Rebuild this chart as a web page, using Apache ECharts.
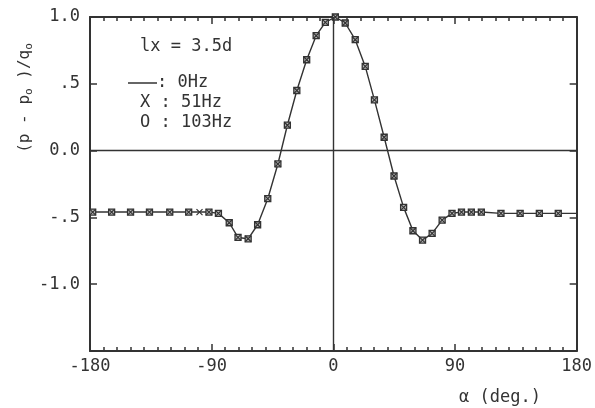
<!DOCTYPE html>
<html>
<head>
<meta charset="utf-8">
<script src="https://cdn.jsdelivr.net/npm/echarts@6.0.0/dist/echarts.min.js"></script>
<style>
  html, body { margin: 0; padding: 0; background: #fff; }
  #chart { width: 595px; height: 408px; }
</style>
</head>
<body>
<div id="chart"></div>
<script>
// circumferential angle (deg.)
const angles = [
  -178, -164, -150, -136, -121, -107, -99, -92, -85, -77, -70.5, -63, -56, -48.5,
  -41, -34, -27, -19.7, -12.7, -5.9, 1.5, 8.8, 16.2, 23.6, 30.4, 37.6, 44.9, 52,
  58.9, 66, 73.1, 80.5, 87.8, 94.8, 102.1, 109.5, 124, 138.2, 152.4, 166.4, 180
];
// (p - p0)/q0 for each frequency
const p0Hz = [
  -0.46, -0.46, -0.46, -0.46, -0.46, -0.46, -0.46, -0.46, -0.47, -0.54, -0.65, -0.66, -0.555, -0.36,
  -0.10, 0.19, 0.45, 0.68, 0.86, 0.96, 1.0, 0.955, 0.83, 0.63, 0.38, 0.10, -0.19, -0.425,
  -0.60, -0.67, -0.62, -0.52, -0.47, -0.46, -0.46, -0.46, -0.47, -0.47, -0.47, -0.47, -0.47
];
const p51Hz = [
  -0.46, -0.46, -0.46, -0.46, -0.46, -0.46, -0.46, -0.46, -0.47, -0.54, -0.65, -0.66, -0.555, -0.36,
  -0.10, 0.19, 0.45, 0.68, 0.86, 0.96, 1.0, 0.955, 0.83, 0.63, 0.38, 0.10, -0.19, -0.425,
  -0.60, -0.67, -0.62, -0.52, -0.47, -0.46, -0.46, -0.46, -0.47, -0.47, -0.47, -0.47, null
];
const p103Hz = [
  -0.46, -0.46, -0.46, -0.46, -0.46, -0.46, null, -0.46, -0.47, -0.54, -0.65, -0.66, -0.555, -0.36,
  -0.10, 0.19, 0.45, 0.68, 0.86, 0.96, 1.0, 0.955, 0.83, 0.63, 0.38, 0.10, -0.19, -0.425,
  -0.60, -0.67, -0.62, -0.52, -0.47, -0.46, -0.46, -0.46, -0.47, -0.47, -0.47, -0.47, null
];
const xTicks = [-180, -90, 0, 90, 180];
const yTickLabels = { '1': '1.0', '0.5': '.5', '0': '0.0', '-0.5': '-.5', '-1': '-1.0', '-1.5': '' };

const ink = '#333';
const font = 'DejaVu Sans Mono';

const pairs = (vals) => angles.map((a, i) => [a, vals[i]]).filter(d => d[1] != null);

const axisCommon = {
  axisLine: { onZero: false, lineStyle: { color: ink, width: 2 } },
  axisTick: { inside: true, length: 7, lineStyle: { color: ink, width: 1.5 } },
  splitLine: { show: false }
};

const xCommon = Object.assign({}, axisCommon, {
  type: 'value', min: -180, max: 180, interval: 90,
  minorTick: { show: true, splitNumber: 9, length: 4, lineStyle: { color: ink, width: 1.5 } }
});
const yCommon = Object.assign({}, axisCommon, {
  type: 'value', min: -1.5, max: 1.0, interval: 0.5
});

const chart = echarts.init(document.getElementById('chart'));
chart.setOption({
  backgroundColor: '#fff',
  animation: false,
  grid: { left: 90, right: 16, top: 17, bottom: 57 },
  xAxis: [
    Object.assign({}, xCommon, {
      position: 'bottom',
      axisLabel: { color: ink, fontFamily: font, fontSize: 17, margin: 7,
        formatter: v => xTicks.includes(v) ? String(v) : '' }
    }),
    Object.assign({}, xCommon, { position: 'top', axisLabel: { show: false } })
  ],
  yAxis: [
    Object.assign({}, yCommon, {
      position: 'left',
      axisLabel: { color: ink, fontFamily: font, fontSize: 17, margin: 10,
        formatter: v => yTickLabels[String(v)] ?? '' }
    }),
    Object.assign({}, yCommon, { position: 'right', axisLabel: { show: false } })
  ],
  series: [
    {
      name: '0Hz', type: 'line', data: pairs(p0Hz), showSymbol: false,
      lineStyle: { color: ink, width: 1.4 }, z: 2,
      markLine: {
        silent: true, symbol: 'none', label: { show: false },
        lineStyle: { color: ink, width: 1.4, type: 'solid' },
        data: [{ yAxis: 0 }, { xAxis: 0 }]
      }
    },
    {
      name: '103Hz', type: 'scatter', data: pairs(p103Hz), symbol: 'rect', symbolSize: 6,
      itemStyle: { color: '#bbb', borderColor: ink, borderWidth: 1.3, opacity: 1 }, z: 3
    },
    {
      name: '51Hz', type: 'scatter', data: pairs(p51Hz),
      symbol: 'path://M0,0L10,10M10,0L0,10', symbolSize: 6,
      itemStyle: { color: 'none', borderColor: ink, borderWidth: 1.2, opacity: 1 }, z: 4
    }
  ],
  graphic: [
    { type: 'text', x: 25, y: 98, rotation: Math.PI / 2,
      style: { text: '{a|(p - p}{s|o}{a| )/q}{s|o}', align: 'center', verticalAlign: 'middle',
        rich: { a: { fontFamily: font, fontSize: 16, fill: ink },
                s: { fontFamily: font, fontSize: 11, fill: ink, padding: [9, 0, 0, 0] } } } },
    { type: 'text', x: 140, y: 47,
      style: { text: 'lx = 3.5d', fontFamily: font, fontSize: 17, fill: ink, verticalAlign: 'middle' } },
    { type: 'line', shape: { x1: 128, y1: 83, x2: 157, y2: 83 }, style: { stroke: ink, lineWidth: 1.5 } },
    { type: 'text', x: 157, y: 83,
      style: { text: ': 0Hz', fontFamily: font, fontSize: 17, fill: ink, verticalAlign: 'middle' } },
    { type: 'text', x: 140, y: 103,
      style: { text: 'X : 51Hz', fontFamily: font, fontSize: 17, fill: ink, verticalAlign: 'middle' } },
    { type: 'text', x: 140, y: 123,
      style: { text: 'O : 103Hz', fontFamily: font, fontSize: 17, fill: ink, verticalAlign: 'middle' } },
    { type: 'text', x: 500, y: 398,
      style: { text: 'α (deg.)', fontFamily: font, fontSize: 17, fill: ink, align: 'center', verticalAlign: 'middle' } }
  ]
});
</script>
</body>
</html>
